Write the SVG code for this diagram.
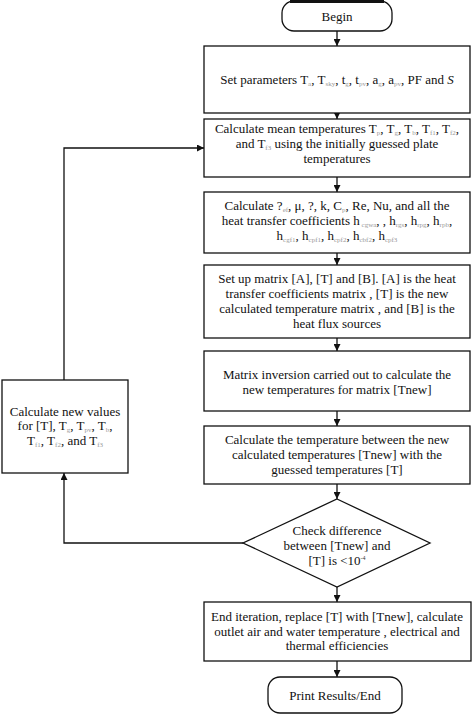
<svg xmlns="http://www.w3.org/2000/svg" width="474" height="717" viewBox="0 0 474 717">
<style>
text{font-family:"Liberation Serif","Times New Roman",serif;font-size:13px;fill:#111;text-anchor:middle}
.s{font-size:7px;fill:#999;baseline-shift:-2px}
.p{font-size:6px;fill:#333;baseline-shift:5px}
.b{fill:#fff;stroke:#111;stroke-width:1.3}
.c{fill:none;stroke:#111;stroke-width:1.3}
</style>
<defs>
<marker id="ah" viewBox="0 0 10 10" refX="10" refY="5" markerWidth="7" markerHeight="7" orient="auto" markerUnits="userSpaceOnUse">
<path d="M0,0 L10,5 L0,10 z" fill="#111"/>
</marker>
</defs>
<g id="connectors">
<line class="c" x1="337" y1="31" x2="337" y2="46" marker-end="url(#ah)"/>
<line class="c" x1="337" y1="113" x2="337" y2="119" marker-end="url(#ah)"/>
<line class="c" x1="337" y1="177" x2="337" y2="192" marker-end="url(#ah)"/>
<line class="c" x1="337" y1="253" x2="337" y2="265" marker-end="url(#ah)"/>
<line class="c" x1="337" y1="338" x2="337" y2="351" marker-end="url(#ah)"/>
<line class="c" x1="337" y1="411" x2="337" y2="426" marker-end="url(#ah)"/>
<line class="c" x1="337" y1="484" x2="337" y2="499" marker-end="url(#ah)"/>
<line class="c" x1="337" y1="587" x2="337" y2="602" marker-end="url(#ah)"/>
<line class="c" x1="337" y1="661" x2="337" y2="677" marker-end="url(#ah)"/>
<polyline class="c" points="243,543 64,543 64,473" marker-end="url(#ah)"/>
<polyline class="c" points="64,380 64,148 204,148" marker-end="url(#ah)"/>
</g>
<g id="begin">
<rect class="b" x="282" y="1" width="110" height="30" rx="12"/>
<line x1="290" y1="1.5" x2="384" y2="1.5" stroke="#111" stroke-width="3"/>
<text x="337" y="21">Begin</text>
</g>
<g id="set-parameters">
<rect class="b" x="204" y="46" width="266" height="67"/>
<text x="337" y="84">Set parameters T<tspan class="s">a</tspan>, T<tspan class="s">sky</tspan>, t<tspan class="s">g</tspan>, t<tspan class="s">pv</tspan>, a<tspan class="s">g</tspan>, a<tspan class="s">pv</tspan>, PF and <tspan font-style="italic">S</tspan></text>
</g>
<g id="mean-temperatures">
<rect class="b" x="204" y="119" width="266" height="58"/>
<text x="337" y="133">Calculate mean temperatures T<tspan class="s">p</tspan>, T<tspan class="s">g</tspan>, T<tspan class="s">b</tspan>, T<tspan class="s">f1</tspan>, T<tspan class="s">f2</tspan>,</text>
<text x="337" y="148">and T<tspan class="s">f3</tspan> using the initially guessed plate</text>
<text x="337" y="163">temperatures</text>
</g>
<g id="coefficients">
<rect class="b" x="204" y="192" width="266" height="61"/>
<text x="337" y="210">Calculate ?<tspan class="s">ef</tspan>, μ, ?, k, C<tspan class="s">p</tspan>, Re, Nu, and all the</text>
<text x="337" y="225">heat transfer coefficients h<tspan class="s"> cgwa</tspan>, , h<tspan class="s">rgs</tspan>, h<tspan class="s">rpg</tspan>, h<tspan class="s">rpb</tspan>,</text>
<text x="337" y="240">h<tspan class="s">cgf1</tspan>, h<tspan class="s">cpf1</tspan>, h<tspan class="s">cpf2</tspan>, h<tspan class="s">cbf2</tspan>, h<tspan class="s">cpf3</tspan></text>
</g>
<g id="matrix-setup">
<rect class="b" x="204" y="265" width="266" height="73"/>
<text x="337" y="283">Set up matrix  [A], [T] and  [B]. [A] is the heat</text>
<text x="337" y="298">transfer coefficients matrix  , [T] is the new</text>
<text x="337" y="313">calculated temperature matrix  , and [B] is the</text>
<text x="337" y="328">heat flux sources</text>
</g>
<g id="matrix-inversion">
<rect class="b" x="204" y="351" width="266" height="60"/>
<text x="337" y="379">Matrix inversion carried out to calculate the</text>
<text x="337" y="394">new temperatures for matrix  [Tnew]</text>
</g>
<g id="compare">
<rect class="b" x="204" y="426" width="266" height="58"/>
<text x="337" y="444">Calculate the temperature between the new</text>
<text x="337" y="459">calculated temperatures  [Tnew] with the</text>
<text x="337" y="474">guessed temperatures  [T]</text>
</g>
<g id="check">
<polygon class="b" points="337,499 430,543 337,587 243,543"/>
<text x="337" y="535">Check difference</text>
<text x="337" y="550">between [Tnew] and</text>
<text x="337" y="565">[T] is &lt;10<tspan class="p">-4</tspan></text>
</g>
<g id="end-iteration">
<rect class="b" x="204" y="602" width="267" height="59"/>
<text x="337" y="621">End iteration, replace  [T] with [Tnew], calculate</text>
<text x="337" y="636">outlet air and water temperature  , electrical and</text>
<text x="337" y="650">thermal efficiencies</text>
</g>
<g id="print-end">
<rect class="b" x="268" y="677" width="134" height="36" rx="12"/>
<text x="335" y="700">Print Results/End</text>
</g>
<g id="new-values">
<rect class="b" x="2" y="380" width="126" height="93"/>
<text x="65" y="416">Calculate new values</text>
<text x="65" y="430">for [T], T<tspan class="s">g</tspan>, T<tspan class="s">pv</tspan>, T<tspan class="s">b</tspan>,</text>
<text x="65" y="445">T<tspan class="s">f1</tspan>, T<tspan class="s">f2</tspan>, and T<tspan class="s">f3</tspan></text>
</g>
</svg>
